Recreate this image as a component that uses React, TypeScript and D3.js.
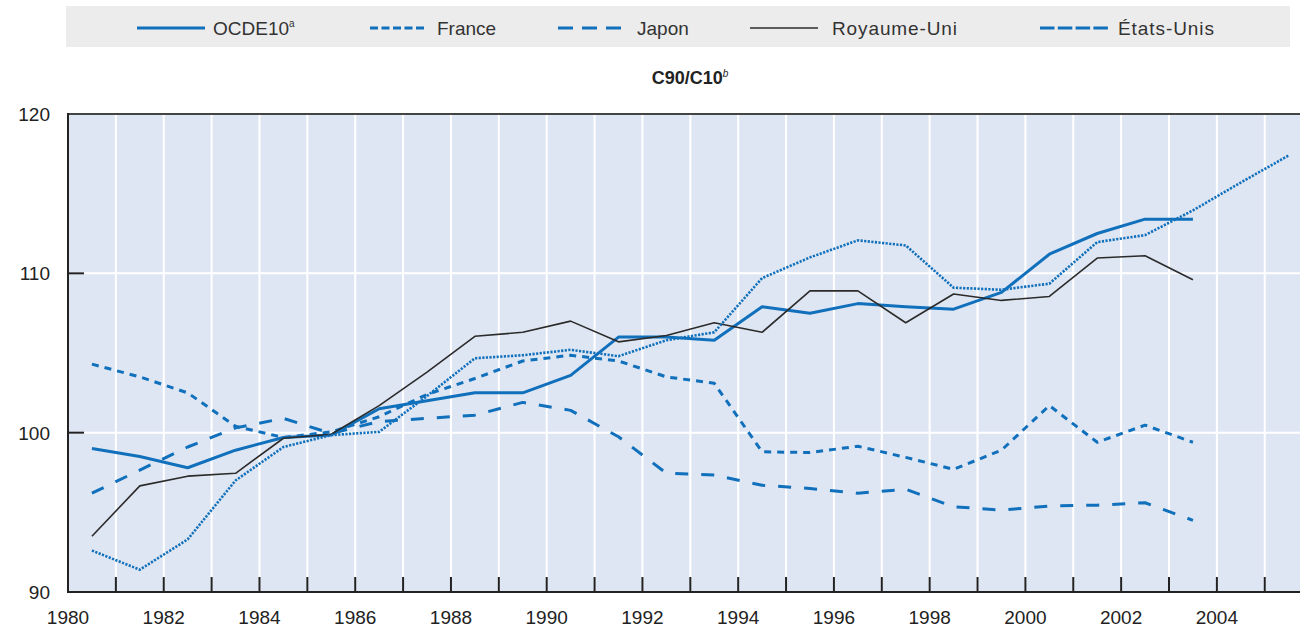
import React from "react";
import * as d3 from "d3";

const years = d3.range(1980, 2006);
const ocde10 = [99.0, 98.5, 97.8, 98.9, 99.7, 99.85, 101.5, 102.0, 102.5, 102.5, 103.6, 106.0, 106.0, 105.8, 107.9, 107.5, 108.1, 107.9, 107.75, 108.8, 111.2, 112.5, 113.4, 113.4];
const france = [104.3, 103.5, 102.5, 100.4, 99.7, 100.05, 101.0, 102.4, 103.4, 104.5, 104.86, 104.5, 103.5, 103.1, 98.8, 98.75, 99.15, 98.45, 97.7, 98.9, 101.7, 99.4, 100.47, 99.4];
const japon = [96.2, 97.65, 99.1, 100.3, 100.9, 99.95, 100.7, 100.9, 101.1, 101.9, 101.4, 99.74, 97.45, 97.34, 96.7, 96.5, 96.2, 96.45, 95.35, 95.14, 95.4, 95.45, 95.6, 94.5];
const royaumeUni = [93.5, 96.66, 97.27, 97.45, 99.65, 99.9, 101.7, 103.8, 106.05, 106.3, 107.0, 105.7, 106.1, 106.9, 106.3, 108.9, 108.9, 106.9, 108.7, 108.3, 108.55, 110.96, 111.1, 109.6];
const etatsUnis = [92.6, 91.4, 93.3, 97.0, 99.1, 99.85, 100.05, 102.3, 104.67, 104.86, 105.2, 104.8, 105.8, 106.3, 109.7, 111.0, 112.07, 111.75, 109.1, 108.97, 109.35, 111.96, 112.4, 113.95, 115.7, 117.4];
const yTicks = [90, 100, 110, 120];
const xLabelYears = d3.range(1980, 2005, 2);

const BLUE = "#1170bb";
const FONT = "'Liberation Sans', Arial, sans-serif";

const seriesDefs = [
  { name: "OCDE10", sup: "a", values: ocde10, color: BLUE, width: 3, dash: null, legendDash: null, lx: 137, lw: 68, tx: 213 },
  { name: "France", sup: "", values: france, color: BLUE, width: 3, dash: "7,6", legendDash: "8,3.5", lx: 370, lw: 57, tx: 437 },
  { name: "Japon", sup: "", values: japon, color: BLUE, width: 3, dash: "13,13", legendDash: "15,9", lx: 558, lw: 67, tx: 637 },
  { name: "Royaume-Uni", sup: "", values: royaumeUni, color: "#2b2b2b", width: 1.6, dash: null, legendDash: null, lx: 750, lw: 68, tx: 832 },
  { name: "États-Unis", sup: "", values: etatsUnis, color: BLUE, width: 2.6, dash: "2.2,1.4", legendDash: "14.5,3.3", lx: 1040, lw: 68, tx: 1118 },
];

export default function App() {
  const W = 1300, H = 629;
  const left = 68, top = 114, bottom = 592;
  const x = d3.scaleLinear().domain([1980, 2006]).range([left, left + 26 * 47.87]);
  const y = d3.scaleLinear().domain([90, 120]).range([bottom, top]);
  const line = d3.line<number>().x((_, i) => x(years[i] + 0.5)).y((d) => y(d));
  const right = W;

  return (
    <div style={{ position: "absolute", left: 0, top: 0 }}>
      <svg width={W} height={H} style={{ display: "block", fontFamily: FONT }}>
        <rect x={0} y={0} width={W} height={H} fill="#ffffff" />
        {/* legend */}
        <rect x={66} y={6} width={1224} height={41} fill="#ececec" />
        {seriesDefs.map((s) => (
          <g key={s.name}>
            <line x1={s.lx} x2={s.lx + s.lw} y1={28} y2={28} stroke={s.color} strokeWidth={s.name === "Royaume-Uni" ? 1.6 : 3.2} strokeDasharray={s.legendDash ?? undefined} />
            <text x={s.tx} y={35} fontSize={19} fill="#333" textLength={s.name === "Royaume-Uni" ? 125 : s.name === "États-Unis" ? 96 : undefined}>
              {s.name}
              {s.sup && <tspan fontSize={10} dy={-8}>{s.sup}</tspan>}
            </text>
          </g>
        ))}
        {/* title */}
        <text x={690} y={84} textAnchor="middle" fontSize={18} fontWeight="bold" fill="#222">
          C90/C10<tspan fontSize={10} dy={-7} fontWeight="normal" fontStyle="italic">b</tspan>
        </text>
        {/* plot background */}
        <rect x={left} y={top} width={right - left} height={bottom - top} fill="#dfe6f3" />
        {d3.range(1981, 2006).map((yr) => (
          <line key={"vg" + yr} x1={x(yr)} x2={x(yr)} y1={top} y2={bottom} stroke="#ffffff" strokeWidth={2} />
        ))}
        {[100, 110].map((v) => (
          <line key={"hg" + v} x1={left} x2={right} y1={y(v)} y2={y(v)} stroke="#ffffff" strokeWidth={2} />
        ))}
        <defs>
          <clipPath id="plotclip">
            <rect x={left} y={top} width={right - left} height={bottom - top} />
          </clipPath>
        </defs>
        <g clipPath="url(#plotclip)">
          {seriesDefs.map((s) => (
            <path key={"l" + s.name} d={line(s.values) ?? ""} fill="none" stroke={s.color} strokeWidth={s.width} strokeDasharray={s.dash ?? undefined} strokeLinejoin="round" />
          ))}
        </g>
        {/* frame */}
        <line x1={left} x2={right} y1={top} y2={top} stroke="#444" strokeWidth={2} />
        <line x1={left} x2={left} y1={top - 1} y2={bottom + 1} stroke="#222" strokeWidth={2} />
        <line x1={left} x2={right} y1={bottom} y2={bottom} stroke="#222" strokeWidth={2} />
        {/* x ticks */}
        {d3.range(1981, 2006).map((yr) => (
          <line key={"xt" + yr} x1={x(yr)} x2={x(yr)} y1={bottom} y2={bottom - 15} stroke="#222" strokeWidth={2} />
        ))}
        {xLabelYears.map((yr) => (
          <text key={"xl" + yr} x={x(yr)} y={624} textAnchor="middle" fontSize={19} fill="#222">{yr}</text>
        ))}
        {/* y ticks */}
        {[100, 110].map((v) => (
          <line key={"yt" + v} x1={left} x2={left + 16} y1={y(v)} y2={y(v)} stroke="#222" strokeWidth={2} />
        ))}
        {yTicks.map((v) => (
          <text key={"yl" + v} x={50} y={y(v) + 7} textAnchor="end" fontSize={19} fill="#222">{v}</text>
        ))}
      </svg>
    </div>
  );
}
